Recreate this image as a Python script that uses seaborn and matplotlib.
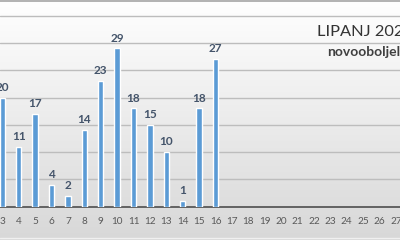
import numpy as np
import pandas as pd
import matplotlib
matplotlib.use("Agg")
import matplotlib.pyplot as plt
import seaborn as sns
from matplotlib.colors import LinearSegmentedColormap

# Data
days = [str(d) for d in range(3, 31)]
cases = [20, 11, 17, 4, 2, 14, 23, 29, 18, 15, 10, 1, 18, 27] + [np.nan] * 14
title_text = "LIPANJ 2021"
subtitle_text = "novooboljeli"

sns.set_theme(style="white")
plt.rcParams['font.family'] = ['Lato', 'DejaVu Sans']

df = pd.DataFrame({"dan": days, "broj": cases})

fig = plt.figure(figsize=(4, 2.4), dpi=100)

# gradient background
bg = fig.add_axes([0, 0, 1, 1], zorder=0)
grad = np.linspace(1.0, 0.0, 256).reshape(-1, 1)
cmap = LinearSegmentedColormap.from_list("g", ["#d8d8d8", "#ffffff"])
bg.imshow(grad, aspect="auto", cmap=cmap, extent=[0, 1, 0, 1], origin="upper")
bg.axhline(2.5 / 240, color="#f0f0f0", lw=1)
bg.axhline(1 - 0.5 / 240, color="#a6a6a6", lw=1.2)
bg.set_xlim(0, 1)
bg.set_ylim(0, 1)
bg.set_axis_off()

ax = fig.add_axes([0, 1 - 206.5 / 240, 1, 206.5 / 240], zorder=1)
ax.patch.set_alpha(0)
sns.barplot(data=df, x="dan", y="broj", order=days, color="#5b9bd5",
            width=0.33, ax=ax, saturation=1, zorder=3)

ax.set_xlim(-0.14, 24.25)
unit = 5.45
ax.set_ylim(0, 206.5 / unit)
ax.set_yticks([5, 10, 15, 20, 25, 30, 35])
ax.yaxis.grid(True, color="#bdbdbd", lw=1)
ax.set_axisbelow(True)
ax.tick_params(axis="y", left=False, labelleft=False)
ax.tick_params(axis="x", bottom=False, labelsize=7.2, colors="#595959", pad=1.5)
for s in ["top", "right", "left"]:
    ax.spines[s].set_visible(False)
ax.spines["bottom"].set_color("#595959")
ax.spines["bottom"].set_linewidth(1.3)
ax.set_xlabel("")
ax.set_ylabel("")

for c in ax.containers:
    labels = ["" if np.isnan(v) else f"{int(v)}" for v in c.datavalues]
    ax.bar_label(c, labels=labels, padding=3.5, fontsize=8.5, fontweight="bold",
                 color="#44546a")

fig.text(317 / 400, 1 - 32 / 240, title_text, fontsize=11.8, color="#333333",
         ha="left", va="center")
fig.text(327 / 400, 1 - 52 / 240, subtitle_text, fontsize=10, color="#404040",
         fontweight="bold", ha="left", va="center")

fig.savefig("out.png", dpi=100)
